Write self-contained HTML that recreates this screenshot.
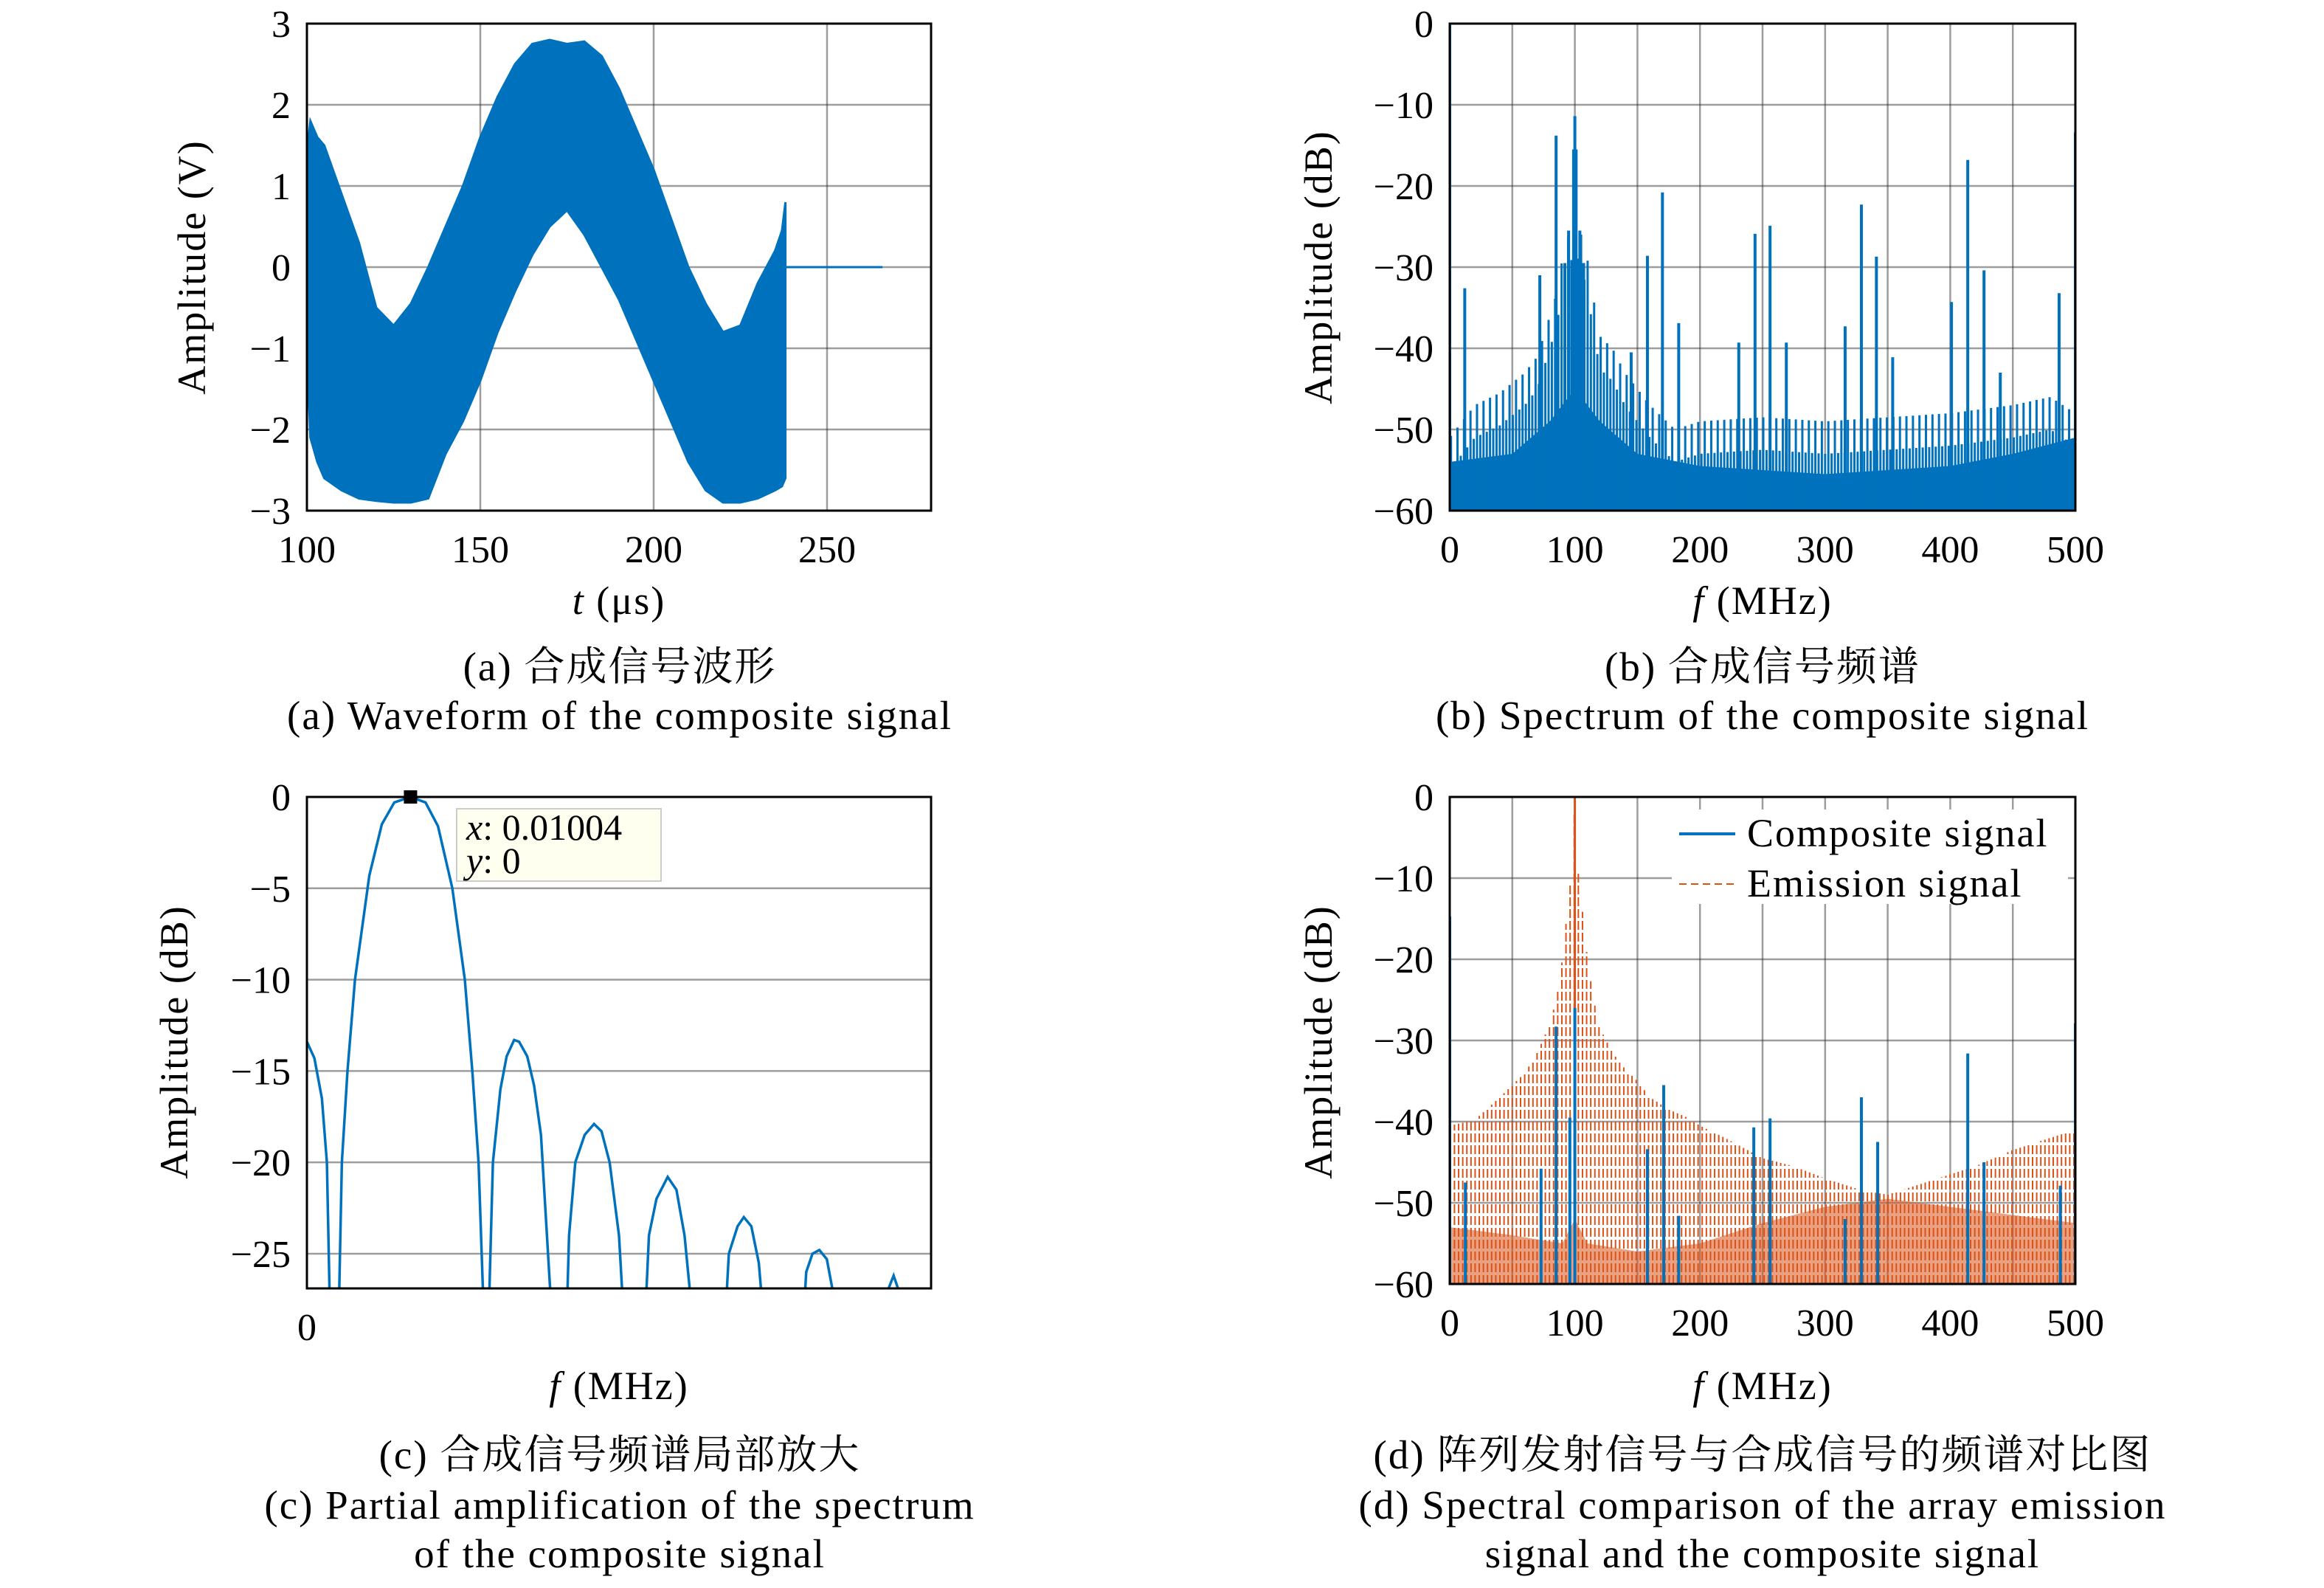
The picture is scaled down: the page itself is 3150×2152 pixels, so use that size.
<!DOCTYPE html>
<html><head><meta charset="utf-8"><style>
html,body{margin:0;padding:0;background:#fff;}
svg{display:block;}
text{font-family:"Liberation Serif","Noto Serif CJK SC",serif;fill:#000;}
</style></head><body>
<svg id="fig" width="3150" height="2152" viewBox="0 0 3150 2152" xmlns="http://www.w3.org/2000/svg">
<g id="pa"></g>
<g id="pb"></g>
<g id="pc"></g>
<g id="pd"></g>
<g font-size="55" letter-spacing="2" text-anchor="middle">
<text x="840" y="922">(a) 合成信号波形</text>
<text x="840" y="988">(a) Waveform of the composite signal</text>
<text x="2389" y="922">(b) 合成信号频谱</text>
<text x="2389" y="988">(b) Spectrum of the composite signal</text>
<text x="840" y="1990">(c) 合成信号频谱局部放大</text>
<text x="840" y="2058">(c) Partial amplification of the spectrum</text>
<text x="840" y="2124">of the composite signal</text>
<text x="2389" y="1990">(d) 阵列发射信号与合成信号的频谱对比图</text>
<text x="2389" y="2058">(d) Spectral comparison of the array emission</text>
<text x="2389" y="2124">signal and the composite signal</text>
</g>
</svg>
<script>
// ---- Panel (a) data ----
const waveT = [100,101,103,105,110,115,120,125,130,135,140,145,150,155,160,165,170,175,180,185,190,195,200,205,210,215,220,225,230,235,237,238];
const waveUpper = [1.4,1.8,1.6,1.5,0.9,0.3,-0.5,-0.72,-0.45,0.0,0.5,1.0,1.6,2.1,2.5,2.75,2.8,2.75,2.78,2.6,2.2,1.7,1.2,0.6,0.0,-0.45,-0.8,-0.72,-0.2,0.2,0.45,0.8];
const waveLower = [-1.0,-2.1,-2.4,-2.6,-2.75,-2.85,-2.88,-2.9,-2.9,-2.85,-2.3,-1.9,-1.4,-0.8,-0.3,0.15,0.5,0.7,0.4,0.0,-0.4,-0.9,-1.4,-1.9,-2.4,-2.75,-2.9,-2.9,-2.85,-2.75,-2.7,-2.6];
const tailT = [238,266];
const tailV = [0,0];
const aXTicks = [100,150,200,250];
const aYTicks = [3,2,1,0,-1,-2,-3];

// ---- Panel (b) data ----
const bPeakF = [0,12,72,85,92,95,99,100,101,104,107,145,158,170,183,231,244,256,269,316,329,341,354,401,414,427,440,487,500];
const bPeakDb = [0,-32.6,-31,-13.8,-29.5,-25.5,-15.5,-11.4,-15.5,-25.5,-29.5,-40.5,-28.6,-20.8,-36.9,-39.3,-25.9,-24.9,-39.3,-37.3,-22.3,-28.7,-41.1,-34.3,-16.8,-30.4,-43,-33.2,-13.4];
const bEnvF = [0,20,40,60,70,80,85,90,95,100,105,110,115,120,130,140,150,160,170,180,200,250,300,350,400,450,480,500];
const bEnvDb = [-51,-47,-45.5,-43,-41,-36,-33.5,-29,-26,-24,-26,-29,-34,-38.5,-40,-43,-45,-47,-48.5,-50,-49,-48.5,-49,-48.5,-48,-47,-46,-48];
const bFloorF = [0,50,80,100,120,150,200,300,400,450,500];
const bFloorDb = [-54,-53,-49,-45,-49,-53,-54.5,-55.5,-54.5,-53,-51];
const bXTicks = [0,100,200,300,400,500];
const bYTicks = [0,-10,-20,-30,-40,-50,-60];

// ---- Panel (c) data (null separates lobes) ----
const cX = [0,0.012,0.024,0.032,0.038,null,0.05,0.056,0.065,0.077,0.1,0.12,0.14,0.166,0.19,0.21,0.233,0.253,0.265,0.275,0.285,null,0.29,0.298,0.31,0.32,0.332,0.34,0.353,0.364,0.375,0.395,null,0.415,0.42,0.43,0.445,0.46,0.472,0.485,0.5,0.51,null,0.54,0.548,0.56,0.578,0.592,0.605,0.622,null,0.668,0.676,0.69,0.7,0.712,0.724,0.735,null,0.793,0.8,0.81,0.821,0.833,0.845,null,0.925,0.94,0.953];
const cY = [-13.4,-14.3,-16.5,-20,-30,null,-30,-20,-15,-10,-4.3,-1.5,-0.3,0,-0.3,-1.6,-5,-10,-15,-20,-30,null,-30,-20,-16,-14.2,-13.3,-13.4,-14.2,-15.8,-18.5,-30,null,-30,-24,-20,-18.5,-17.9,-18.3,-20,-24,-30,null,-30,-24,-22,-20.8,-21.5,-24,-30,null,-30,-25,-23.5,-23,-23.5,-25.5,-30,null,-30,-26,-25,-24.8,-25.3,-27.5,null,-27.5,-26.2,-27.5];
const cTipX = 0.166, cTipY = 0;
const cTipLabels = ["0.01004","0"];
const cXTicks = [0];
const cXTickLabels = ["0"];
const cYTicks = [0,-5,-10,-15,-20,-25];

// ---- Panel (d) data ----
const dBlueF = [0,12.5,73,85,96,100,158,171,183,243,256,316,329,342,414,427,488,500];
const dBlueDb = [-14.7,-47.5,-45.8,-28.3,-39.5,-26,-43.4,-35.5,-51.6,-40.7,-39.6,-52,-37,-42.5,-31.6,-45,-47.9,-27.9];
const dEnvF = [0,20,40,50,60,70,80,85,90,95,98,100,102,105,110,115,120,130,140,150,160,175,190,200,220,250,275,300,330,350,370,400,420,450,480,500];
const dEnvDb = [-40.5,-39.8,-37,-35.5,-34,-31.5,-28,-25,-20,-12.5,-8,0,-8,-12.5,-20,-25,-28.5,-31.5,-33.5,-35,-37,-38.5,-39.5,-40.5,-42,-44.5,-45.5,-47,-48.5,-49,-48,-46.5,-45.5,-43.5,-42,-41];
const dFloorF = [0,50,90,100,110,150,200,250,300,350,400,450,500];
const dFloorDb = [-53,-54,-55,-52,-55,-56,-55,-52.5,-50.5,-49.5,-50.5,-51.5,-52.5];
const dXTicks = [0,100,200,300,400,500];
const dYTicks = [0,-10,-20,-30,-40,-50,-60];

const NS = "http://www.w3.org/2000/svg";
const BLUE = "#0072BD", ORANGE = "#D95319";
function mk(parent, tag, attrs){
  const e = document.createElementNS(NS, tag);
  for (const k in attrs) e.setAttribute(k, attrs[k]);
  parent.appendChild(e);
  return e;
}
function lin(d0,d1,r0,r1){ return v => r0 + (v-d0)/(d1-d0)*(r1-r0); }
function interp(xs, ys, x){
  if (x <= xs[0]) return ys[0];
  for (let i=1;i<xs.length;i++){
    if (x <= xs[i]){ const t=(x-xs[i-1])/(xs[i]-xs[i-1]); return ys[i-1]+t*(ys[i]-ys[i-1]); }
  }
  return ys[ys.length-1];
}
function setupAxes(g, box, xs, ys, xTicks, xLabels, yTicks, xGrid, clipId){
  const cp = mk(g,'clipPath',{id:clipId});
  mk(cp,'rect',{x:box.x0,y:box.y0,width:box.x1-box.x0,height:box.y1-box.y0});
  const grid = mk(g,'g',{stroke:'#262626','stroke-opacity':'0.45','stroke-width':'2.5'});
  
  
  xGrid.forEach(v=>{ const x=xs(v); mk(grid,'line',{x1:x,x2:x,y1:box.y0,y2:box.y1}); });
  yTicks.forEach(v=>{ const y=ys(v); mk(grid,'line',{x1:box.x0,x2:box.x1,y1:y,y2:y}); });
  const ticks = mk(g,'g',{'font-size':'52'});
  
  
  xTicks.forEach((v,i)=>{
    const t = mk(ticks,'text',{x:xs(v),y:box.y1+70,'text-anchor':'middle'});
    t.textContent = xLabels[i];
    
    
  });
  yTicks.forEach(v=>{
    const t = mk(ticks,'text',{x:box.x0-22,y:ys(v)+18,'text-anchor':'end'});
    t.textContent = v<0 ? '\u2212'+Math.abs(v) : String(v);
    
    
  });
  return mk(g,'g',{'clip-path':'url(#'+clipId+')'});
}
function frame(g, box){
  const r = mk(g,'rect',{x:box.x0,y:box.y0,width:box.x1-box.x0,height:box.y1-box.y0,fill:'none',stroke:'#000','stroke-width':'3'});
  
  
}
function label(g, txt, x, y, rot, name){
  const t = mk(g,'text',{x:x,y:y,'font-size':'54','letter-spacing':'2','text-anchor':'middle',transform: rot?`rotate(-90 ${x} ${y})`:''});
  t.innerHTML = txt;
  
  
}

// ===== Panel (a) =====
(function(){
  const g = document.getElementById('pa');
  const box = {x0:416,x1:1262,y0:32,y1:692};
  const xs = lin(100,280,box.x0,box.x1), ys = lin(3,-3,box.y0,box.y1);
  const pl = setupAxes(g, box, xs, ys, aXTicks, aXTicks.map(String), aYTicks, [100,150,200,250], 'clipA');
  let d = '';
  waveT.forEach((t,i)=>{ d += (i?'L':'M')+xs(t)+','+ys(waveUpper[i]); });
  for (let i=waveT.length-1;i>=0;i--) d += 'L'+xs(waveT[i])+','+ys(waveLower[i]);
  const band = mk(pl,'path',{d:d+'Z',fill:BLUE,stroke:BLUE,'stroke-width':'3'});
  
  
  const tail = mk(pl,'line',{x1:xs(tailT[0]),x2:xs(tailT[1]),y1:ys(tailV[0]),y2:ys(tailV[1]),stroke:BLUE,'stroke-width':'3'});
  
  
  frame(g, box);
  label(g,'Amplitude (V)',278,362,true,'y-axis-title');
  label(g,'<tspan font-style="italic">t</tspan> (μs)',839,832,false,'x-axis-title');
})();

// ===== Panel (b) =====
(function(){
  const g = document.getElementById('pb');
  const box = {x0:1965,x1:2813,y0:32,y1:692};
  const xs = lin(0,500,box.x0,box.x1), ys = lin(0,-60,box.y0,box.y1);
  const pl = setupAxes(g, box, xs, ys, bXTicks, bXTicks.map(String), bYTicks, [0,50,100,150,200,250,300,350,400,450,500], 'clipB');
  let d = 'M'+xs(0)+','+ys(-60);
  for (let f=0; f<=500; f+=2) d += 'L'+xs(f)+','+ys(interp(bFloorF,bFloorDb,f));
  d += 'L'+xs(500)+','+ys(-60)+'Z';
  const fl = mk(pl,'path',{d:d,fill:BLUE});
  
  
  const comb = mk(pl,'g',{stroke:BLUE,'stroke-width':'3'});
  
  
  let k=0;
  for (let f=1; f<500; f+=2.6, k++){
    const v = interp(bEnvF,bEnvDb,f) - (k%2 ? 4 : 0);
    mk(comb,'line',{x1:xs(f),x2:xs(f),y1:ys(-60),y2:ys(v)});
  }
  bPeakF.forEach((f,i)=>{
    const l = mk(pl,'line',{x1:xs(f),x2:xs(f),y1:ys(-60),y2:ys(bPeakDb[i]),stroke:BLUE,'stroke-width':'4'});
    
    
  });
  frame(g, box);
  label(g,'Amplitude (dB)',1805,362,true,'y-axis-title');
  label(g,'<tspan font-style="italic">f</tspan> (MHz)',2389,832,false,'x-axis-title');
})();

// ===== Panel (c) =====
(function(){
  const g = document.getElementById('pc');
  const box = {x0:416,x1:1262,y0:1080,y1:1746};
  const xs = lin(0,1,box.x0,box.x1), ys = lin(0,-26.9,box.y0,box.y1);
  const pl = setupAxes(g, box, xs, ys, cXTicks, cXTickLabels, cYTicks, [], 'clipC');
  let d='', pen=false;
  cX.forEach((x,i)=>{
    if (x===null){ pen=false; return; }
    d += (pen?'L':'M')+xs(x)+','+ys(cY[i]); pen=true;
  });
  const c = mk(pl,'path',{d:d,fill:'none',stroke:BLUE,'stroke-width':'3.5'});
  
  
  frame(g, box);
  const m = mk(g,'rect',{x:xs(cTipX)-9,y:ys(cTipY)-9,width:18,height:18,fill:'#000'});
  
  
  const tip = mk(g,'g',{});
  
  
  mk(tip,'rect',{x:619,y:1096,width:277,height:98,fill:'#FFFFF0',stroke:'#ccc','stroke-width':'2'});
  const t1 = mk(tip,'text',{x:632,y:1138,'font-size':'50'}); t1.innerHTML='<tspan font-style="italic">x</tspan>: '+cTipLabels[0];
  const t2 = mk(tip,'text',{x:632,y:1183,'font-size':'50'}); t2.innerHTML='<tspan font-style="italic">y</tspan>: '+cTipLabels[1];
  label(g,'Amplitude (dB)',254,1412,true,'y-axis-title');
  label(g,'<tspan font-style="italic">f</tspan> (MHz)',839,1896,false,'x-axis-title');
})();

// ===== Panel (d) =====
(function(){
  const g = document.getElementById('pd');
  const box = {x0:1965,x1:2813,y0:1080,y1:1740};
  const xs = lin(0,500,box.x0,box.x1), ys = lin(0,-60,box.y0,box.y1);
  const pl = setupAxes(g, box, xs, ys, dXTicks, dXTicks.map(String), dYTicks, [0,50,100,150,200,250,300,350,400,450,500], 'clipD');
  const comb = mk(pl,'g',{stroke:ORANGE,'stroke-width':'2','stroke-dasharray':'12 4'});
  
  
  for (let f=0.5; f<500; f+=3.3){
    mk(comb,'line',{x1:xs(f),x2:xs(f),y1:ys(-60),y2:ys(interp(dEnvF,dEnvDb,f))});
  }
  let d = 'M'+xs(0)+','+ys(-60);
  for (let f=0; f<=500; f+=2) d += 'L'+xs(f)+','+ys(interp(dFloorF,dFloorDb,f));
  d += 'L'+xs(500)+','+ys(-60)+'Z';
  const fl = mk(pl,'path',{d:d,fill:ORANGE,'fill-opacity':'0.55'});
  
  
  const pk = mk(pl,'line',{x1:xs(100),x2:xs(100),y1:ys(-60),y2:ys(interp(dEnvF,dEnvDb,100)),stroke:ORANGE,'stroke-width':'3'});
  
  
  dBlueF.forEach((f,i)=>{
    const l = mk(pl,'line',{x1:xs(f),x2:xs(f),y1:ys(-60),y2:ys(dBlueDb[i]),stroke:BLUE,'stroke-width':'4'});
    
    
  });
  frame(g, box);
  const lg = mk(g,'g',{});
  
  
  mk(lg,'rect',{x:2266,y:1097,width:537,height:128,fill:'#fff'});
  mk(lg,'line',{x1:2276,x2:2352,y1:1130,y2:1130,stroke:BLUE,'stroke-width':'4'});
  const lt1 = mk(lg,'text',{x:2368,y:1147,'font-size':'54','letter-spacing':'2'}); lt1.textContent='Composite signal';
  
  
  mk(lg,'line',{x1:2276,x2:2352,y1:1198,y2:1198,stroke:ORANGE,'stroke-width':'2','stroke-dasharray':'10 6'});
  const lt2 = mk(lg,'text',{x:2368,y:1215,'font-size':'54','letter-spacing':'2'}); lt2.textContent='Emission signal';
  
  
  label(g,'Amplitude (dB)',1805,1412,true,'y-axis-title');
  label(g,'<tspan font-style="italic">f</tspan> (MHz)',2389,1896,false,'x-axis-title');
})();
</script>
</body></html>
